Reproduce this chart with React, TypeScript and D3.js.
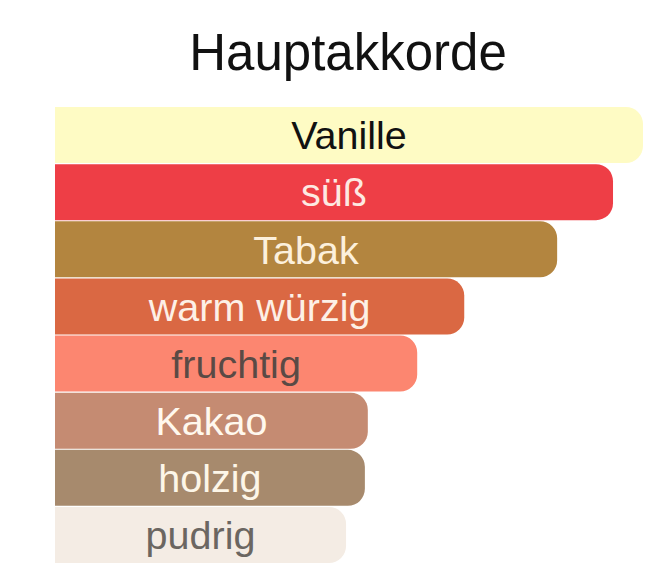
import React from "react";
import * as d3 from "d3";

const categories = ["Vanille", "süß", "Tabak", "warm würzig", "fruchtig", "Kakao", "holzig", "pudrig"];
const values = [100, 94.9, 85.4, 69.6, 61.6, 53.2, 52.7, 49.5];
const barColors = ["#FEFBC4", "#EE3E46", "#B3853F", "#DA6843", "#FC8670", "#C58B72", "#A78A6D", "#F4ECE4"];
const textColors = ["#111111", "#FDE9E2", "#FCF0DC", "#FDF0E6", "#5A4A45", "#FFF8EE", "#FDF6E8", "#6B6661"];
const title = "Hauptakkorde";

const W = 656;
const H = 570;

function barPath(x0: number, x1: number, y0: number, h: number, r: number) {
  const rr = Math.min(r, h / 2, x1 - x0);
  const p = d3.path();
  p.moveTo(x0, y0);
  p.lineTo(x1 - rr, y0);
  p.arcTo(x1, y0, x1, y0 + rr, rr);
  p.lineTo(x1, y0 + h - rr);
  p.arcTo(x1, y0 + h, x1 - rr, y0 + h, rr);
  p.lineTo(x0, y0 + h);
  p.closePath();
  return p.toString();
}

export default function App() {
  const x = d3.scaleLinear().domain([0, 100]).range([55, 643]);
  const y = d3.scaleBand<string>().domain(categories).range([107, 563]).paddingInner(0.02).paddingOuter(0);
  const fs = 39.5;
  return (
    <svg
      width={W}
      height={H}
      viewBox={`0 0 ${W} ${H}`}
      style={{ position: "absolute", left: 0, top: 0, background: "#fff" }}
      fontFamily="'Liberation Sans', Arial, Helvetica, sans-serif"
    >
      <rect x={0} y={0} width={W} height={H} fill="#fff" />
      <text x={348} y={70} textAnchor="middle" fontSize={51} fill="#111">
        {title}
      </text>
      {categories.map((c, i) => {
        const y0 = y(c) as number;
        const h = y.bandwidth();
        const x0 = x(0);
        const x1 = x(values[i]);
        return (
          <g key={c}>
            <path d={barPath(x0, x1, y0, h, 17)} fill={barColors[i]} />
            <text
              x={(x0 + x1) / 2}
              y={y0 + h / 2 + fs * 0.36}
              textAnchor="middle"
              fontSize={fs}
              fill={textColors[i]}
            >
              {c}
            </text>
          </g>
        );
      })}
    </svg>
  );
}
